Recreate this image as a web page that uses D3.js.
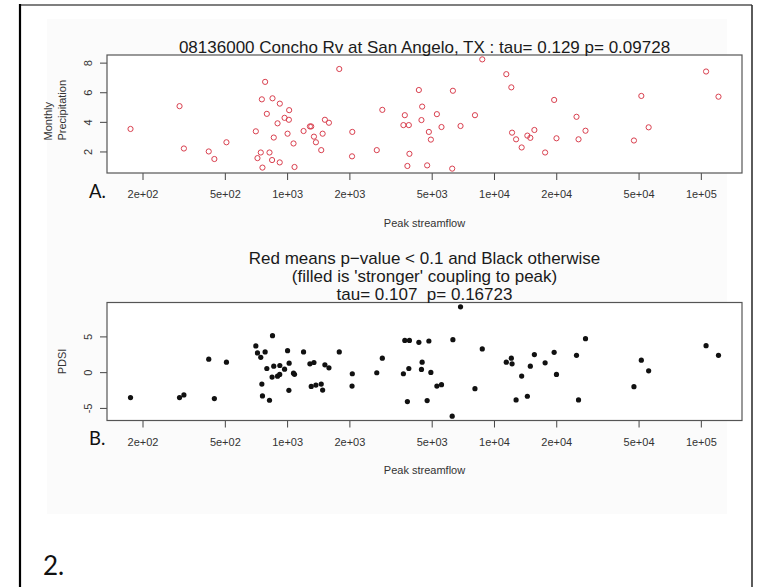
<html>
<head>
<style>
    body { margin: 0; background: #fff; }
    svg { display: block; }
    text { font-family: "Liberation Sans", Arial, sans-serif; }
</style>
</head>
<body>
<script src="https://d3js.org/d3.v7.min.js"></script>
<script>
    // Peak streamflow (shared x for both panels)
    const peakFlow = [175, 302, 317, 418, 445, 509, 706, 719, 746, 755, 760, 783, 798, 822, 846, 850, 862, 899, 922, 921,
        972, 1005, 1023, 1020, 1074, 1086, 1201, 1289, 1308, 1348, 1378, 1462, 1485, 1523, 1593, 1787, 2066, 2060, 2713,
        2886, 3707, 3649, 3876, 3902, 3815, 4334, 4496, 4461, 4845, 4954, 4753, 5297, 5576, 6331, 6282, 6892, 8093, 8778,
        11470, 12130, 12230, 12790, 13610, 14500, 14990, 15680, 17670, 19540, 20050, 25060, 25630, 27700, 47490, 51560,
        55940, 106000, 121700]

    // Panel A: monthly precipitation
    const precip = [3.52, 5.06, 2.2, 2.0, 1.49, 2.62, 3.36, 1.55, 1.93, 5.52, 0.91, 6.7, 4.54, 1.93, 1.42, 5.59, 2.94, 3.9, 5.23, 1.26,
        4.27, 3.2, 4.79, 4.14, 2.54, 0.95, 3.38, 3.69, 3.69, 3.0, 2.62, 2.09, 3.2, 4.14, 3.94, 7.57, 3.32, 1.67, 2.09,
        4.81, 4.45, 3.78, 3.78, 1.84, 1.02, 6.15, 5.03, 4.12, 3.32, 2.8, 1.06, 4.52, 3.65, 6.1, 0.84, 3.72, 4.45, 8.22,
        7.22, 6.33, 3.27, 2.82, 2.27, 3.07, 2.92, 3.45, 1.93, 5.48, 2.89, 4.34, 2.82, 3.4, 2.74, 5.75,
        3.63, 7.4, 5.7]

    // Panel B: PDSI
    const pdsi = [-3.56, -3.56, -3.19, 1.81, -3.7, 1.39, 3.67, 2.69, 2.08, -1.67, -3.33, 2.83, 0.51, -3.93, -0.69, 5.1, 0.83, -0.56, 0.93, -0.32,
        0.42, 3.01, 1.25, -2.54, -0.14, -0.3, 2.83, 1.16, -2.0, 1.35, -1.8, -1.67, -2.5, 1.02, 0.6, 2.83, -0.22, -1.94, -0.08,
        1.95, 4.44, -0.22, 0.51, 4.44, -4.11, 4.17, 1.39, 0.38, 4.36, -0.04, -3.97, -1.94, -1.75, 4.54, -6.15, 9.13, -2.31, 3.25,
        1.39, 1.95, 1.16, -3.89, -0.55, -3.37, 0.83, 2.46, 1.3, 2.78, -0.32, 2.36, -3.89, 4.68, -2.03, 1.67,
        0.19, 3.71, 2.36]

    const xTicks = [200, 500, 1000, 2000, 5000, 10000, 20000, 50000, 100000]
    const xTickLabels = ["2e+02", "5e+02", "1e+03", "2e+03", "5e+03", "1e+04", "2e+04", "5e+04", "1e+05"]
    const precipTicks = [2, 4, 6, 8]
    const pdsiTicks = [-5, 0, 5]
    const pdsiTickLabels = ["-5", "0", "5"]

    const titleA = "08136000 Concho Rv at San Angelo, TX : tau= 0.129 p= 0.09728"
    const titleB = ["Red means p\u2212value < 0.1 and Black otherwise", "(filled is 'stronger' coupling to peak)", "tau= 0.107  p= 0.16723"]

    const width = 761
    const height = 587
    const left = 107
    const right = 742
    const plotH = 118
    const topA = 55
    const topB = 302.5

    const svg = d3.select("body")
                .append("svg")
                .attr("width", width)
                .attr("height", height)

    // faint backdrop of the pasted figure
    svg.append("rect")
        .attr("x", 47).attr("y", 19)
        .attr("width", 680).attr("height", 495)
        .attr("fill", "#fbfbfb")

    // outer frame (no bottom edge)
    svg.append("line")
        .attr("x1", 20).attr("x2", 752).attr("y1", 5).attr("y2", 5)
        .attr("stroke", "#555").attr("stroke-width", 1.6)
    svg.append("line")
        .attr("x1", 752).attr("x2", 752).attr("y1", 5).attr("y2", 587)
        .attr("stroke", "#333").attr("stroke-width", 1.6)
    svg.append("line")
        .attr("x1", 20).attr("x2", 20).attr("y1", 4).attr("y2", 587)
        .attr("stroke", "#000").attr("stroke-width", 2.2)

    // R style range: 4% padding
    function padExtent(values, log) {
        let [lo, hi] = d3.extent(values)
        if (log) { lo = Math.log10(lo); hi = Math.log10(hi) }
        const p = 0.04 * (hi - lo)
        return log ? [Math.pow(10, lo - p), Math.pow(10, hi + p)] : [lo - p, hi + p]
    }

    const xScale = d3.scaleLog()
                    .domain(padExtent(peakFlow, true))
                    .range([left, right])

    function panel(top, yValues, yTicks, yLabels, yTitle, letter, filled) {
        const yScale = d3.scaleLinear()
                        .domain(padExtent(yValues, false))
                        .range([top + plotH, top])

        const g = svg.append("g")

        // plot area
        g.append("rect")
            .attr("x", left).attr("y", top)
            .attr("width", right - left).attr("height", plotH)
            .attr("fill", "#fff")

        // x axis
        const xAxis = d3.axisBottom(xScale)
                        .tickValues(xTicks)
                        .tickFormat((d, i) => xTickLabels[i])
                        .tickSize(7)
                        .tickSizeOuter(0)
                        .tickPadding(10.5)
        const gx = g.append("g")
            .attr("transform", "translate(0," + (top + plotH) + ")")
            .call(xAxis)
        gx.select(".domain").remove()
        gx.selectAll("line").attr("stroke", "#444")
        gx.selectAll("text").attr("fill", "#333").style("font-size", "11px")

        // y axis
        const yAxis = d3.axisLeft(yScale)
                        .tickValues(yTicks)
                        .tickFormat((d, i) => yLabels[i])
                        .tickSize(7)
                        .tickSizeOuter(0)
        const gy = g.append("g")
            .attr("transform", "translate(" + left + ",0)")
            .call(yAxis)
        gy.select(".domain").remove()
        gy.selectAll("line").attr("stroke", "#444")
        gy.selectAll("text")
            .attr("x", null).attr("dy", null)
            .attr("text-anchor", "middle")
            .attr("transform", "translate(-15.5,0) rotate(-90)")
            .attr("fill", "#333")
            .style("font-size", "11px")

        // box
        g.append("rect")
            .attr("x", left).attr("y", top)
            .attr("width", right - left).attr("height", plotH)
            .attr("fill", "none")
            .attr("stroke", "#555")
            .attr("stroke-width", 1.2)

        // points
        g.selectAll("circle")
            .data(peakFlow)
            .join("circle")
            .attr("cx", d => xScale(d))
            .attr("cy", (d, i) => yScale(yValues[i]))
            .attr("r", 2.6)
            .attr("fill", filled ? "#111" : "none")
            .attr("stroke", filled ? "none" : "#d9404f")
            .attr("stroke-width", 1)

        // x label
        g.append("text")
            .attr("x", (left + right) / 2)
            .attr("y", top + plotH + 53.5)
            .attr("text-anchor", "middle")
            .attr("fill", "#333")
            .style("font-size", "11px")
            .text("Peak streamflow")

        // y label (one or two lines)
        const cy = top + plotH / 2
        yTitle.forEach((t, i) => {
            const bx = 66 - (yTitle.length - 1 - i) * 14.5
            g.append("text")
                .attr("transform", "translate(" + bx + "," + (yTitle.length > 1 ? 140.5 : cy) + ") rotate(-90)")
                .attr("text-anchor", yTitle.length > 1 ? "start" : "middle")
                .attr("fill", "#333")
                .style("font-size", "11px")
                .text(t)
        })

        // panel letter
        g.append("text")
            .attr("x", 89)
            .attr("y", top + plotH + 24.5)
            .style("font-family", "Lato, 'Open Sans', sans-serif")
            .style("font-size", "18.5px")
            .attr("fill", "#111")
            .text(letter)

        return g
    }

    panel(topA, precip, precipTicks, precipTicks.map(String), ["Monthly", "Precipitation"], "A.", false)
    panel(topB, pdsi, pdsiTicks, pdsiTickLabels, ["PDSI"], "B.", true)

    // titles
    svg.append("text")
        .attr("x", (left + right) / 2)
        .attr("y", topA - 2.3)
        .attr("text-anchor", "middle")
        .attr("fill", "#1a1a1a")
        .style("font-size", "17px")
        .text(titleA)

    titleB.forEach((t, i) => {
        svg.append("text")
            .attr("x", (left + right) / 2)
            .attr("y", topB - 2.3 - (titleB.length - 1 - i) * 18.3)
            .attr("text-anchor", "middle")
            .attr("fill", "#1a1a1a")
            .style("font-size", "17px")
            .style("white-space", "pre")
            .text(t)
    })

    // figure number
    svg.append("text")
        .attr("x", 43)
        .attr("y", 575)
        .style("font-family", "Lato, 'Open Sans', sans-serif")
        .style("font-size", "26px")
        .attr("fill", "#111")
        .text("2.")
</script>
</body>
</html>
